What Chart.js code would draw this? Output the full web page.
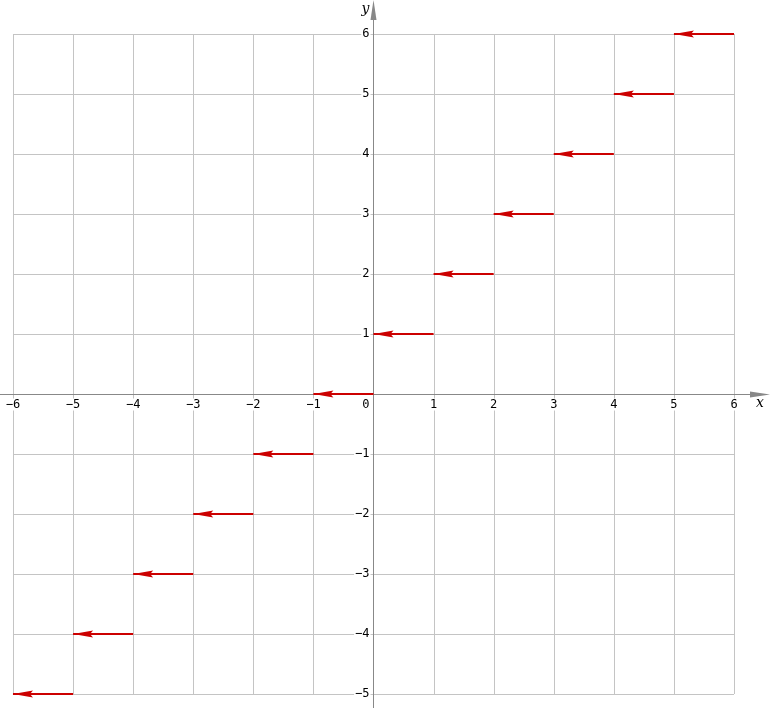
<!DOCTYPE html>
<html>
<head>
<meta charset="utf-8" />
<title>Step function</title>
<style>
  body { margin: 0; background: #fff; }
  #chart { display: block; }
</style>
<script src="https://cdn.jsdelivr.net/npm/chart.js"></script>
</head>
<body>
<canvas id="chart" width="770" height="708"></canvas>
<script>
// segments: y = level on [start, end], open end (arrow) at start
const segStarts = [-6, -5, -4, -3, -2, -1, 0, 1, 2, 3, 4, 5];
const segEnds   = [-5, -4, -3, -2, -1, 0, 1, 2, 3, 4, 5, 6];
const segLevels = [-5, -4, -3, -2, -1, 0, 1, 2, 3, 4, 5, 6];
const xTicks = [-6, -5, -4, -3, -2, -1, 0, 1, 2, 3, 4, 5, 6];
const yTicks = [-5, -4, -3, -2, -1, 1, 2, 3, 4, 5, 6];

const red = '#cc0000';
const gridColor = '#c4c4c4';
const axisColor = '#888888';
const tickFont = '12px "DejaVu Sans Mono", monospace';

const fmt = v => (v < 0 ? '\u2212' + Math.abs(v) : String(v));

const datasets = segStarts.map((s, i) => ({
  data: [{ x: s, y: segLevels[i] }, { x: segEnds[i], y: segLevels[i] }],
  borderColor: red,
  borderWidth: 2,
  pointRadius: 0,
  showLine: true,
  fill: false
}));

const crisp = v => Math.round(v) + 0.5;

const axesPlugin = {
  id: 'axesPlugin',
  beforeDatasetsDraw(chart) {
    const { ctx, scales: { x, y }, width, height } = chart;
    const x0 = crisp(x.getPixelForValue(0));
    const y0 = crisp(y.getPixelForValue(0));
    const gxMin = x.getPixelForValue(xTicks[0]);
    const gxMax = x.getPixelForValue(xTicks[xTicks.length - 1]);
    const gyMin = y.getPixelForValue(yTicks[0]);
    const gyMax = y.getPixelForValue(yTicks[yTicks.length - 1]);
    ctx.save();
    ctx.lineWidth = 1;
    ctx.strokeStyle = gridColor;
    ctx.beginPath();
    xTicks.forEach(t => {
      const px = crisp(x.getPixelForValue(t));
      ctx.moveTo(px, gyMax); ctx.lineTo(px, gyMin);
    });
    [...yTicks, 0].forEach(t => {
      const py = crisp(y.getPixelForValue(t));
      ctx.moveTo(gxMin, py); ctx.lineTo(gxMax, py);
    });
    ctx.stroke();

    // tick labels with white boxes
    ctx.font = tickFont;
    ctx.textBaseline = 'middle';
    xTicks.forEach(t => {
      const txt = fmt(t);
      const w = ctx.measureText(txt).width;
      const px = x.getPixelForValue(t);
      let cx = t === 0 ? x0 - 4 - w / 2 : px;
      const cy = y0 + 10;
      ctx.fillStyle = '#fff';
      ctx.fillRect(cx - w / 2 - 1, cy - 6, w + 2, 12);
      ctx.fillStyle = '#000';
      ctx.textAlign = 'center';
      ctx.fillText(txt, cx, cy);
    });
    yTicks.forEach(t => {
      const txt = fmt(t);
      const w = ctx.measureText(txt).width;
      const py = y.getPixelForValue(t);
      const rx = x0 - 4;
      ctx.fillStyle = '#fff';
      ctx.fillRect(rx - w - 1, py - 6, w + 2, 12);
      ctx.fillStyle = '#000';
      ctx.textAlign = 'right';
      ctx.fillText(txt, rx, py);
    });

    // axes
    ctx.strokeStyle = axisColor;
    ctx.beginPath();
    ctx.moveTo(0, y0); ctx.lineTo(width - 4, y0);
    ctx.moveTo(x0, height); ctx.lineTo(x0, 4);
    ctx.stroke();
    ctx.fillStyle = axisColor;
    ctx.beginPath();
    ctx.moveTo(width, y0); ctx.lineTo(width - 20, y0 - 3); ctx.lineTo(width - 20, y0 + 3); ctx.closePath();
    ctx.fill();
    ctx.beginPath();
    ctx.moveTo(x0, 0); ctx.lineTo(x0 - 3, 20); ctx.lineTo(x0 + 3, 20); ctx.closePath();
    ctx.fill();

    ctx.fillStyle = '#000';
    ctx.font = 'italic 14px "DejaVu Serif", serif';
    ctx.textAlign = 'center';
    ctx.textBaseline = 'middle';
    ctx.fillText('x', width - 10, y0 + 9);
    ctx.fillText('y', x0 - 8, 9);
    ctx.restore();
  },
  afterDatasetsDraw(chart) {
    const { ctx } = chart;
    ctx.save();
    ctx.fillStyle = red;
    chart.data.datasets.forEach((ds, i) => {
      const pts = chart.getDatasetMeta(i).data;
      const tip = pts[0];
      ctx.beginPath();
      ctx.moveTo(tip.x, tip.y);
      ctx.lineTo(tip.x + 20, tip.y - 3.5);
      ctx.lineTo(tip.x + 17, tip.y);
      ctx.lineTo(tip.x + 20, tip.y + 3.5);
      ctx.closePath();
      ctx.fill();
    });
    ctx.restore();
  }
};

new Chart(document.getElementById('chart'), {
  type: 'scatter',
  data: { datasets },
  options: {
    responsive: false,
    animation: false,
    devicePixelRatio: 1,
    layout: { padding: 0 },
    scales: {
      x: { type: 'linear', min: -6.216, max: 6.599, display: false },
      y: { type: 'linear', min: -5.233, max: 6.567, display: false }
    },
    plugins: {
      legend: { display: false },
      tooltip: { enabled: false }
    }
  },
  plugins: [axesPlugin]
});
</script>
</body>
</html>
